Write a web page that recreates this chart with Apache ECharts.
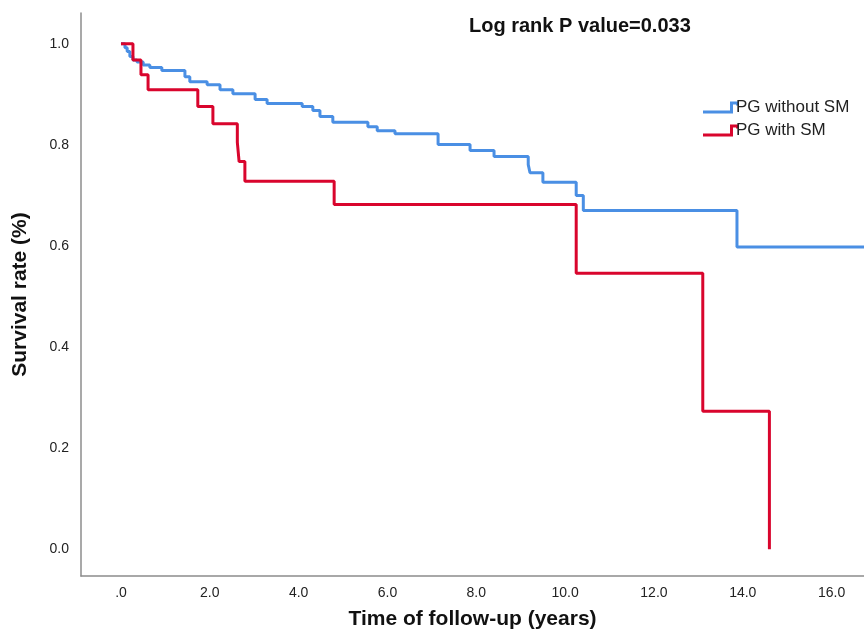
<!DOCTYPE html>
<html>
<head>
<meta charset="utf-8">
<title>Survival curve</title>
<script src="https://cdn.jsdelivr.net/npm/echarts@6/dist/echarts.min.js"></script>
<style>
  html, body { margin: 0; padding: 0; background: #fff; }
  #chart { width: 864px; height: 635px; }
</style>
</head>
<body>
<div id="chart"></div>
<script>
// Kaplan-Meier steps: [time (years), survival]
const withoutSM = [
  [0, 1.0], [0.09, 0.992], [0.14, 0.985], [0.20, 0.975], [0.27, 0.968],
  [0.36, 0.964], [0.50, 0.958], [0.65, 0.953], [0.92, 0.947], [1.44, 0.935],
  [1.55, 0.925], [1.94, 0.919], [2.23, 0.909], [2.52, 0.901], [3.02, 0.890],
  [3.29, 0.882], [4.08, 0.876], [4.32, 0.868], [4.48, 0.856], [4.77, 0.845],
  [5.56, 0.836], [5.77, 0.828], [6.17, 0.822], [7.14, 0.801], [7.86, 0.789],
  [8.40, 0.777], [9.17, 0.761], [9.21, 0.745], [9.50, 0.726], [10.25, 0.700],
  [10.41, 0.670], [13.87, 0.598], [17.0, 0.598]
];
const withSM = [
  [0, 1.0], [0.27, 0.968], [0.45, 0.939], [0.61, 0.909], [1.73, 0.876],
  [2.07, 0.842], [2.62, 0.805], [2.66, 0.767], [2.79, 0.728], [4.80, 0.682],
  [10.25, 0.546], [13.10, 0.273], [14.60, 0.0]
];
const xTicks = [0, 2, 4, 6, 8, 10, 12, 14, 16];
const yTicks = [0, 0.2, 0.4, 0.6, 0.8, 1.0];
const seriesNames = ['PG without SM', 'PG with SM'];

const font = '"Liberation Sans", Arial, sans-serif';
const stepIcon = 'path://M0,9 L27,9 L27,0 L36,0 L36,4 L33,4 L33,3 L30,3 L30,12 L0,12 Z';

const myChart = echarts.init(document.getElementById('chart'));

const option = {
  animation: false,
  backgroundColor: '#fff',
  textStyle: { fontFamily: font },
  title: {
    text: 'Log rank P value=0.033',
    left: 464,
    top: 11,
    textStyle: { fontFamily: font, fontSize: 20, fontWeight: 'bold', color: '#111' }
  },
  legend: {
    orient: 'vertical',
    left: 698,
    top: 94,
    itemWidth: 36,
    itemHeight: 12,
    itemGap: 6,
    icon: stepIcon,
    data: seriesNames,
    textStyle: { fontFamily: font, fontSize: 17, color: '#222', padding: [0, 0, 0, -8] }
  },
  grid: { left: 81, right: 0, top: 13, bottom: 53 },
  xAxis: {
    type: 'value',
    min: -0.9,
    max: 16.73,
    name: 'Time of follow-up (years)',
    nameLocation: 'middle',
    nameGap: 33,
    nameTextStyle: { fontFamily: font, fontSize: 21, fontWeight: 'bold', color: '#111' },
    axisLine: { onZero: false, lineStyle: { color: '#8c8c8c', width: 1.5 } },
    axisTick: { show: false },
    splitLine: { show: false },
    axisLabel: {
      customValues: xTicks,
      margin: 10,
      fontSize: 14,
      color: '#222',
      formatter: v => (v === 0 ? '.0' : v.toFixed(1))
    }
  },
  yAxis: {
    type: 'value',
    min: -0.053,
    max: 1.061,
    name: 'Survival rate (%)',
    nameLocation: 'middle',
    nameGap: 50,
    nameTextStyle: { fontFamily: font, fontSize: 21, fontWeight: 'bold', color: '#111' },
    axisLine: { show: true, onZero: false, lineStyle: { color: '#8c8c8c', width: 1.5 } },
    axisTick: { show: false },
    splitLine: { show: false },
    axisLabel: {
      customValues: yTicks,
      margin: 12,
      fontSize: 14,
      color: '#222',
      formatter: v => v.toFixed(1)
    }
  },
  series: [
    {
      name: seriesNames[0],
      type: 'line',
      step: 'end',
      data: withoutSM,
      showSymbol: false,
      clip: true,
      color: '#4a8fe4',
      lineStyle: { color: '#4a8fe4', width: 3 }
    },
    {
      name: seriesNames[1],
      type: 'line',
      step: 'end',
      data: withSM,
      showSymbol: false,
      clip: true,
      color: '#d9052d',
      lineStyle: { color: '#d9052d', width: 3 }
    }
  ]
};

myChart.setOption(option);
</script>
</body>
</html>
